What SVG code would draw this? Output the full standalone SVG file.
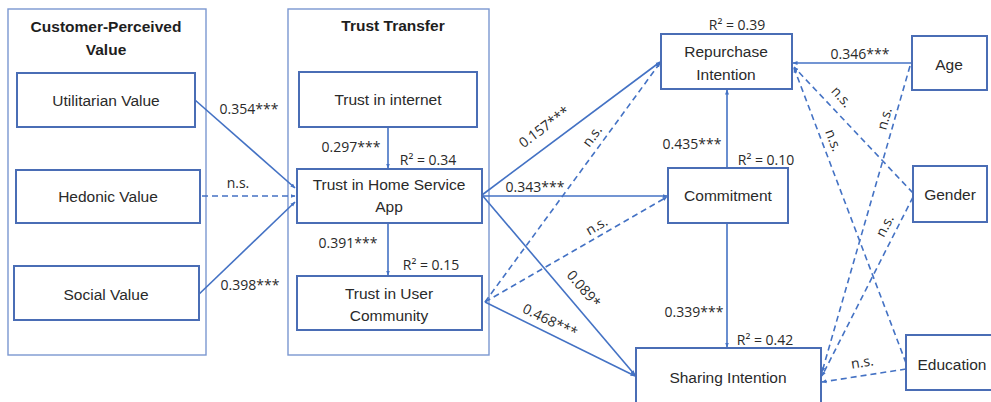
<svg xmlns="http://www.w3.org/2000/svg" width="991" height="402" viewBox="0 0 991 402">
  <defs>
    <marker id="arr" viewBox="0 0 10 10" refX="9" refY="5" markerWidth="5" markerHeight="5" orient="auto" markerUnits="userSpaceOnUse">
      <path d="M0,1 L10,5 L0,9 z" fill="#4472c4"/>
    </marker>
    <style>
      .frame { fill: #ffffff; stroke: #7b97d1; stroke-width: 1.4; }
      .box { fill: #ffffff; stroke: #4a6db5; stroke-width: 2; }
      .title { font-family: "Liberation Sans", Arial, sans-serif; font-size: 15.5px; font-weight: bold; fill: #1e1e1e; text-anchor: middle; }
      .lbl { font-family: "Liberation Sans", Arial, sans-serif; font-size: 15.5px; fill: #2a2a2a; text-anchor: middle; }
      .num { font-family: "Open Sans", "Liberation Sans", sans-serif; font-size: 14px; fill: #2a2a2a; text-anchor: middle; }
      .solid { fill: none; stroke: #4472c4; stroke-width: 1.6; marker-end: url(#arr); }
      .dash { fill: none; stroke: #4472c4; stroke-width: 1.6; stroke-dasharray: 6 4; marker-end: url(#arr); }
    </style>
  </defs>
  <rect width="991" height="402" fill="#ffffff"/>

  <!-- group frames -->
  <g id="grp-value">
    <rect class="frame" x="8" y="9" width="198" height="346"/>
    <text class="title" x="106" y="32">Customer-Perceived</text>
    <text class="title" x="106" y="55">Value</text>
  </g>
  <g id="grp-trust">
    <rect class="frame" x="288" y="9" width="201" height="346"/>
    <text class="title" x="393" y="31">Trust Transfer</text>
  </g>

  <!-- connectors -->
  <g id="connectors">
    <line class="solid" x1="195" y1="100" x2="295" y2="188"/>
    <line class="dash" x1="202" y1="196" x2="295" y2="196"/>
    <line class="solid" x1="195" y1="298" x2="295" y2="202"/>
    <line class="solid" x1="388" y1="127" x2="388" y2="168"/>
    <line class="solid" x1="388" y1="223" x2="388" y2="275"/>
    <line class="solid" x1="482" y1="195" x2="660" y2="62"/>
    <line class="dash" x1="485" y1="302" x2="660" y2="63"/>
    <line class="solid" x1="482" y1="196" x2="667" y2="196"/>
    <line class="dash" x1="485" y1="302" x2="667" y2="197"/>
    <line class="solid" x1="482" y1="195" x2="635" y2="375"/>
    <line class="solid" x1="485" y1="302" x2="635" y2="376"/>
    <line class="solid" x1="727" y1="168" x2="727" y2="90"/>
    <line class="solid" x1="727" y1="223" x2="727" y2="347"/>
    <line class="solid" x1="912" y1="63" x2="793" y2="63"/>
    <line class="dash" x1="913" y1="193" x2="794" y2="67"/>
    <line class="dash" x1="906" y1="363" x2="794" y2="68"/>
    <line class="dash" x1="910" y1="66" x2="822" y2="372"/>
    <line class="dash" x1="913" y1="197" x2="822" y2="376"/>
    <line class="dash" x1="906" y1="369" x2="822" y2="382"/>
  </g>

  <!-- connector labels -->
  <g id="connector-labels">
    <text class="num" x="249" y="114">0.354***</text>
    <text class="num" x="238" y="188">n.s.</text>
    <text class="num" x="250" y="290">0.398***</text>
    <text class="num" x="351" y="152">0.297***</text>
    <text class="num" x="428" y="165">R² = 0.34</text>
    <text class="num" x="348" y="248">0.391***</text>
    <text class="num" x="431" y="270">R² = 0.15</text>
    <text class="num" x="737" y="30">R² = 0.39</text>
    <text class="num" x="692" y="149">0.435***</text>
    <text class="num" x="766" y="165">R² = 0.10</text>
    <text class="num" x="535" y="192">0.343***</text>
    <text class="num" x="694" y="317">0.339***</text>
    <text class="num" x="765" y="345">R² = 0.42</text>
    <text class="num" x="860" y="59">0.346***</text>
    <text class="num" transform="translate(547,131) rotate(-36.6)">0.157***</text>
    <text class="num" transform="translate(596,139) rotate(-53.7)">n.s.</text>
    <text class="num" transform="translate(599,230) rotate(-30)">n.s.</text>
    <text class="num" transform="translate(580,292) rotate(49.5)">0.089*</text>
    <text class="num" transform="translate(548,325) rotate(26)">0.468***</text>
    <text class="num" transform="translate(838,100) rotate(48)">n.s.</text>
    <text class="num" transform="translate(829,142) rotate(69)">n.s.</text>
    <text class="num" transform="translate(889,120) rotate(-74)">n.s.</text>
    <text class="num" transform="translate(889,228) rotate(-62.6)">n.s.</text>
    <text class="num" transform="translate(863,367) rotate(-9)">n.s.</text>
  </g>

  <!-- nodes -->
  <g id="utilitarian">
    <rect class="box" x="17" y="73" width="178" height="54"/>
    <text class="lbl" x="106" y="106">Utilitarian Value</text>
  </g>
  <g id="hedonic">
    <rect class="box" x="16" y="170" width="184" height="53"/>
    <text class="lbl" x="108" y="202">Hedonic Value</text>
  </g>
  <g id="social">
    <rect class="box" x="14" y="266" width="185" height="54"/>
    <text class="lbl" x="106" y="300">Social Value</text>
  </g>
  <g id="trust-internet">
    <rect class="box" x="299" y="72" width="178" height="55"/>
    <text class="lbl" x="388" y="105">Trust in internet</text>
  </g>
  <g id="trust-app">
    <rect class="box" x="297" y="169" width="185" height="54"/>
    <text class="lbl" x="389" y="190">Trust in Home Service</text>
    <text class="lbl" x="389" y="212">App</text>
  </g>
  <g id="trust-community">
    <rect class="box" x="297" y="276" width="185" height="54"/>
    <text class="lbl" x="389" y="299">Trust in User</text>
    <text class="lbl" x="389" y="321">Community</text>
  </g>
  <g id="repurchase">
    <rect class="box" x="661" y="34" width="131" height="55"/>
    <text class="lbl" x="726" y="57">Repurchase</text>
    <text class="lbl" x="726" y="80">Intention</text>
  </g>
  <g id="commitment">
    <rect class="box" x="668" y="168" width="120" height="55"/>
    <text class="lbl" x="728" y="201">Commitment</text>
  </g>
  <g id="sharing">
    <rect class="box" x="636" y="348" width="185" height="60"/>
    <text class="lbl" x="728" y="383">Sharing Intention</text>
  </g>
  <g id="age">
    <rect class="box" x="912" y="36" width="75" height="54"/>
    <text class="lbl" x="949" y="70">Age</text>
  </g>
  <g id="gender">
    <rect class="box" x="913" y="166" width="74" height="56"/>
    <text class="lbl" x="950" y="200">Gender</text>
  </g>
  <g id="education">
    <rect class="box" x="906" y="335" width="92" height="55"/>
    <text class="lbl" x="952" y="370">Education</text>
  </g>
</svg>
